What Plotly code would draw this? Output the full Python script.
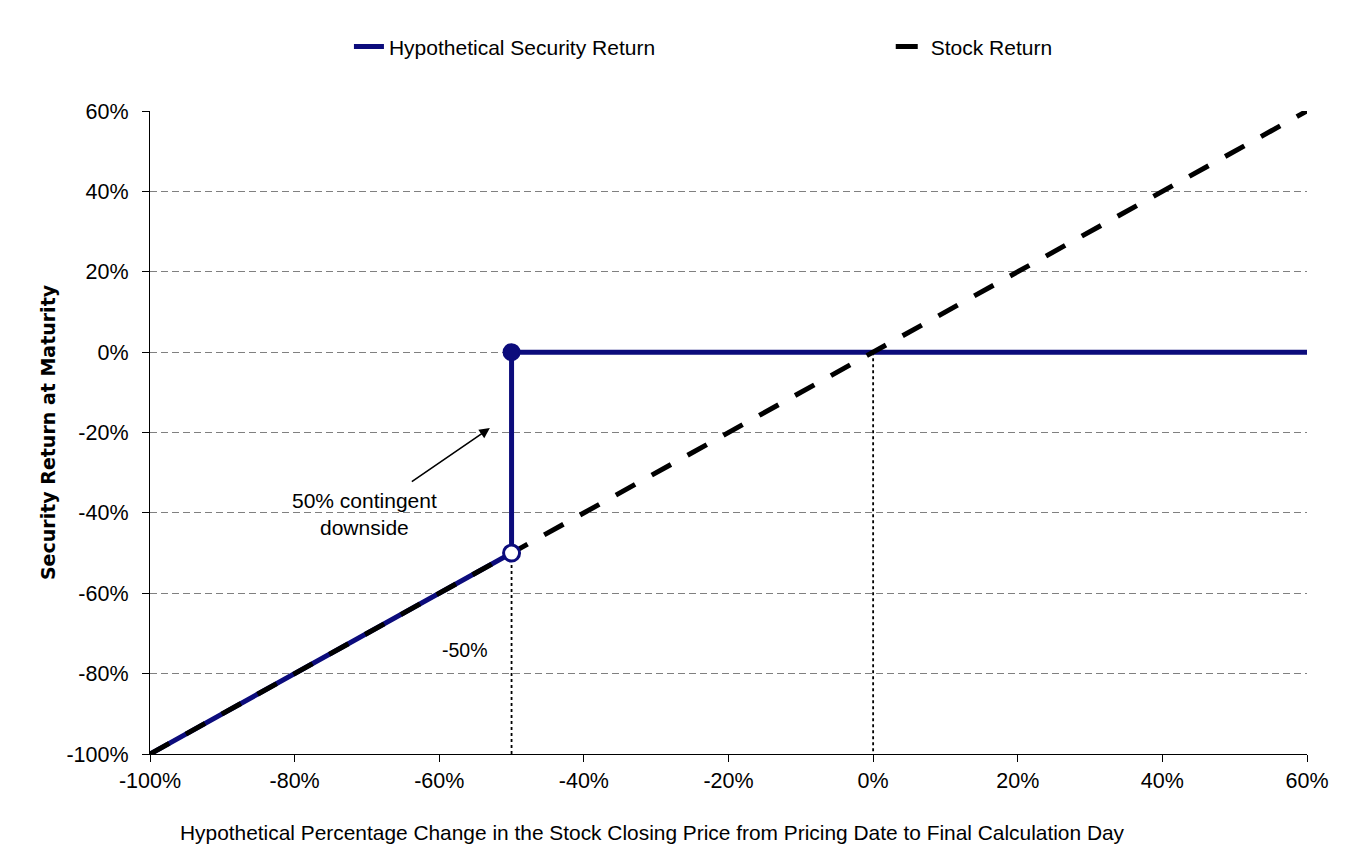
import plotly.graph_objects as go

# Data #########################################################################
stock_change = [-100, -50, 0, 60]
stock_return = [-100, -50, 0, 60]

security_x = [-100, -50, -50, 60]
security_y = [-100, -50, 0, 0]

# breakpoints at the contingent barrier
open_point_x = [-50]
open_point_y = [-50]
closed_point_x = [-50]
closed_point_y = [0]

# dotted drop lines to the x axis
drop_barrier_x = [-50, -50]
drop_barrier_y = [-50, -100]
drop_zero_x = [0, 0]
drop_zero_y = [0, -100]

x_ticks = [-100, -80, -60, -40, -20, 0, 20, 40, 60]
x_tick_labels = ['-100%', '-80%', '-60%', '-40%', '-20%', '0%', '20%', '40%', '60%']
y_ticks = [-100, -80, -60, -40, -20, 0, 20, 40, 60]
y_tick_labels = ['-100%', '-80%', '-60%', '-40%', '-20%', '0%', '20%', '40%', '60%']

NAVY = '#0c0c7c'
FONT = 'Liberation Sans, Arial, sans-serif'

# Figure #######################################################################
fig = go.Figure()

fig.add_trace(go.Scatter(x=drop_barrier_x, y=drop_barrier_y, mode='lines',
                         line=dict(color='black', width=1.8, dash='dot'),
                         showlegend=False, hoverinfo='skip'))
fig.add_trace(go.Scatter(x=drop_zero_x, y=drop_zero_y, mode='lines',
                         line=dict(color='black', width=1.8, dash='dot'),
                         showlegend=False, hoverinfo='skip'))

fig.add_trace(go.Scatter(x=security_x, y=security_y, mode='lines',
                         name='Hypothetical Security Return',
                         line=dict(color=NAVY, width=5),
                         legend='legend'))

fig.add_trace(go.Scatter(x=stock_change, y=stock_return, mode='lines',
                         name='Stock Return',
                         line=dict(color='black', width=5, dash='22px,19px'),
                         legend='legend2'))

fig.add_trace(go.Scatter(x=closed_point_x, y=closed_point_y, mode='markers',
                         marker=dict(size=16, color=NAVY,
                                     line=dict(color=NAVY, width=2)),
                         showlegend=False, hoverinfo='skip'))
fig.add_trace(go.Scatter(x=open_point_x, y=open_point_y, mode='markers',
                         marker=dict(size=16, color='white',
                                     line=dict(color=NAVY, width=3)),
                         showlegend=False, hoverinfo='skip'))

fig.add_annotation(x=-53, y=-18.9, ax=-64, ay=-32.5,
                   xref='x', yref='y', axref='x', ayref='y',
                   text='', showarrow=True, arrowhead=2, arrowsize=1.3,
                   arrowwidth=1.6, arrowcolor='black')
fig.add_annotation(x=-70.3, y=-40.3, xref='x', yref='y',
                   text='50% contingent<br>downside', showarrow=False,
                   font=dict(family=FONT, size=21, color='black'))
fig.add_annotation(x=-56.4, y=-74.1, xref='x', yref='y',
                   text='-50%', showarrow=False,
                   font=dict(family=FONT, size=19.5, color='black'))

# x axis title sits left of the plot centre in the original
fig.add_annotation(x=0.4347, y=0, xref='paper', yref='paper',
                   xanchor='center', yanchor='middle', yshift=-78,
                   text='Hypothetical Percentage Change in the Stock Closing Price from Pricing Date to Final Calculation Day',
                   showarrow=False, font=dict(family=FONT, size=20.9, color='black'))

fig.update_layout(
    width=1372, height=865,
    margin=dict(l=142, r=73, t=103, b=119),
    plot_bgcolor='white',
    paper_bgcolor='white',
    font=dict(family=FONT, color='black'),
    legend=dict(orientation='h', x=0.2485, y=0.955, xref='container', yref='container',
                xanchor='left', yanchor='middle',
                font=dict(family=FONT, size=21),
                bgcolor='rgba(0,0,0,0)'),
    legend2=dict(orientation='h', x=0.6434, y=0.955, xref='container', yref='container',
                 xanchor='left', yanchor='middle',
                 font=dict(family=FONT, size=21),
                 bgcolor='rgba(0,0,0,0)'),
)

fig.update_xaxes(range=[-100, 60], tickvals=x_ticks, ticktext=x_tick_labels,
                 showgrid=False, zeroline=False,
                 showline=True, linecolor='black', linewidth=1.3,
                 ticks='outside', ticklen=7, tickcolor='black', tickwidth=1.3,
                 tickfont=dict(family=FONT, size=21.5))

fig.update_yaxes(range=[-100, 60], tickvals=y_ticks, ticktext=y_tick_labels,
                 showgrid=True, gridcolor='#808080', gridwidth=1.3, griddash='7px,4px',
                 zeroline=False,
                 showline=True, linecolor='black', linewidth=1.3,
                 ticks='outside', ticklen=7, tickcolor='black', tickwidth=1.3,
                 ticklabelstandoff=9,
                 tickfont=dict(family=FONT, size=21.5),
                 title=dict(text='<b>Security Return at Maturity</b>',
                            font=dict(family='DejaVu Sans, sans-serif', size=19),
                            standoff=5))

fig.write_html('out.html')
